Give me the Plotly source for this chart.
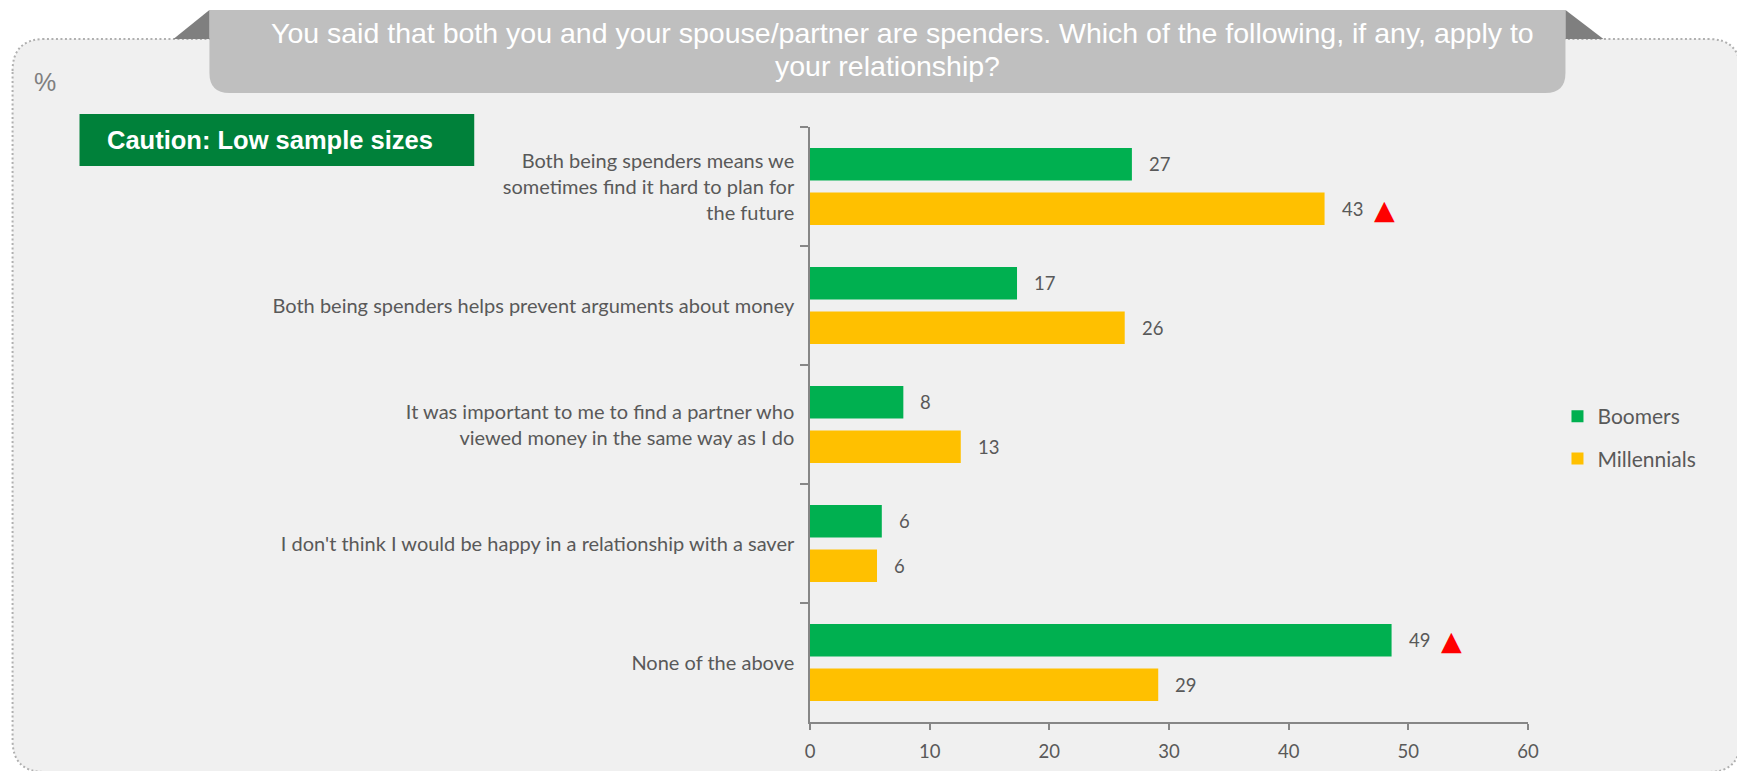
import plotly.graph_objects as go

# ---- data ----
categories = [
    "Both being spenders means we<br>sometimes find it hard to plan for<br>the future",
    "Both being spenders helps prevent arguments about money",
    "It was important to me to find a partner who<br>viewed money in the same way as I do",
    "I don't think I would be happy in a relationship with a saver",
    "None of the above",
]
boomers = [26.9, 17.3, 7.8, 6.0, 48.6]
millennials = [43.0, 26.3, 12.6, 5.6, 29.1]
boomers_sig = [False, False, False, False, True]
millennials_sig = [True, False, False, False, False]
x_ticks = [0, 10, 20, 30, 40, 50, 60]

title_lines = [
    "You said that both you and your spouse/partner are spenders. Which of the following, if any, apply to",
    "your relationship?",
]
caution_text = "<b>Caution: Low sample sizes</b>"

# ---- geometry (pixels) ----
W, H = 1737, 771
L, R, T, B = 810, 1528.5, 127, 722


def fx(px):
    return (px - L) / (R - L)


def fy(py):
    return (B - py) / (B - T)


def rounded_rect(x0, y0, x1, y1, r_top, r_bot):
    """Closed SVG path in paper coords; corners given in pixels."""
    def P(x, y):
        return f"{fx(x):.6f},{fy(y):.6f}"
    parts = []
    if r_top:
        parts.append(f"M{P(x0, y0 + r_top)}")
        parts.append(f"Q{P(x0, y0)} {P(x0 + r_top, y0)}")
        parts.append(f"L{P(x1 - r_top, y0)}")
        parts.append(f"Q{P(x1, y0)} {P(x1, y0 + r_top)}")
    else:
        parts.append(f"M{P(x0, y0)}")
        parts.append(f"L{P(x1, y0)}")
    if r_bot:
        parts.append(f"L{P(x1, y1 - r_bot)}")
        parts.append(f"Q{P(x1, y1)} {P(x1 - r_bot, y1)}")
        parts.append(f"L{P(x0 + r_bot, y1)}")
        parts.append(f"Q{P(x0, y1)} {P(x0, y1 - r_bot)}")
    else:
        parts.append(f"L{P(x1, y1)}")
        parts.append(f"L{P(x0, y1)}")
    parts.append("Z")
    return " ".join(parts)


def poly(points):
    return "M" + " L".join(f"{fx(x):.6f},{fy(y):.6f}" for x, y in points) + " Z"


GREEN = "#00B050"
GOLD = "#FFC000"
TEXT_GREY = "#595959"
AXIS_GREY = "#868686"
LABEL_FONT = "Lato"

fig = go.Figure()
fig.add_trace(go.Bar(
    y=categories, x=boomers, name="Boomers", orientation="h",
    marker=dict(color=GREEN, line=dict(width=0)),
    legendgroup="b", hoverinfo="skip",
))
fig.add_trace(go.Bar(
    y=categories, x=millennials, name="Millennials", orientation="h",
    marker=dict(color=GOLD, line=dict(width=0)),
    legendgroup="m", hoverinfo="skip",
))

annotations = []
# value labels and significance markers next to each bar
for series, sig, shift in ((boomers, boomers_sig, 22.5), (millennials, millennials_sig, -22.5)):
    for cat, val, flag in zip(categories, series, sig):
        annotations.append(dict(
            x=val, y=cat, xref="x", yref="y", text=f"{val:.0f}", showarrow=False,
            xanchor="left", yanchor="middle", xshift=15, yshift=shift,
            font=dict(family=LABEL_FONT, size=18.5, color=TEXT_GREY),
        ))
        if flag:
            annotations.append(dict(
                x=val, y=cat, xref="x", yref="y", text="\u25B2", showarrow=False,
                xanchor="center", yanchor="middle", xshift=60, yshift=shift,
                font=dict(family="DejaVu Sans", size=27, color="#FF0000"),
            ))

for line, px, py in zip(title_lines, (903, 888), (33, 66.5)):
    annotations.append(dict(
        x=fx(px), y=fy(py), xref="paper", yref="paper", text=line, showarrow=False,
        xanchor="center", yanchor="middle",
        font=dict(family="Liberation Sans", size=28.5, color="#FFFFFF")))

annotations += [
    dict(x=fx(270), y=fy(140), xref="paper", yref="paper", text=caution_text, showarrow=False,
         xanchor="center", yanchor="middle",
         font=dict(family="Liberation Sans", size=25.5, color="#FFFFFF")),
    dict(x=fx(44), y=fy(82), xref="paper", yref="paper", text="%", showarrow=False,
         xanchor="center", yanchor="middle",
         font=dict(family="Liberation Sans", size=25, color="#7F7F7F")),
]

shapes = [
    # dotted panel
    dict(type="path", xref="paper", yref="paper", layer="below",
         path=rounded_rect(12, 39, 1741, 772, 32, 32),
         fillcolor="#F0F0F0", line=dict(color="#B0B0B0", width=2, dash="2px,2.5px")),
    # question banner
    dict(type="path", xref="paper", yref="paper", layer="below",
         path=rounded_rect(209, 10, 1566, 93, 0, 20),
         fillcolor="#BFBFBF", line=dict(width=0)),
    dict(type="path", xref="paper", yref="paper", layer="below",
         path=poly([(173, 39), (209, 10), (209, 39)]),
         fillcolor="#7F7F7F", line=dict(width=0)),
    dict(type="path", xref="paper", yref="paper", layer="below",
         path=poly([(1566, 10), (1604, 39), (1566, 39)]),
         fillcolor="#7F7F7F", line=dict(width=0)),
    # caution badge
    dict(type="rect", xref="paper", yref="paper", layer="below",
         x0=fx(79), x1=fx(474), y0=fy(166), y1=fy(114),
         fillcolor="#00813A", line=dict(width=0)),
]

fig.update_layout(
    width=W, height=H,
    margin=dict(l=L, r=W - R, t=T, b=H - B, pad=0, autoexpand=False),
    paper_bgcolor="#FFFFFF", plot_bgcolor="rgba(0,0,0,0)",
    barmode="group", bargap=0.25, bargroupgap=0.27,
    showlegend=True,
    legend=dict(x=fx(1558), y=fy(396), xanchor="left", yanchor="top",
                traceorder="grouped", tracegroupgap=12,
                bgcolor="rgba(0,0,0,0)",
                font=dict(family=LABEL_FONT, size=21, color=TEXT_GREY)),
    annotations=annotations,
    shapes=shapes,
    xaxis=dict(range=[0, 60], tickvals=x_ticks, showgrid=False, zeroline=False,
               automargin=False,
               showline=True, linecolor=AXIS_GREY, linewidth=1.5,
               ticks="outside", ticklen=6, tickwidth=1.5, tickcolor=AXIS_GREY,
               ticklabelstandoff=6,
               tickfont=dict(family=LABEL_FONT, size=18.5, color=TEXT_GREY)),
    yaxis=dict(type="category", categoryorder="array", categoryarray=categories,
               autorange="reversed", showgrid=False, zeroline=False,
               automargin=False,
               showline=True, linecolor=AXIS_GREY, linewidth=1.5,
               ticks="outside", tickson="boundaries", ticklen=8, tickwidth=1.5,
               tickcolor=AXIS_GREY, ticklabelstandoff=10,
               tickfont=dict(family=LABEL_FONT, size=20, color=TEXT_GREY)),
)

fig.write_html("out.html")
